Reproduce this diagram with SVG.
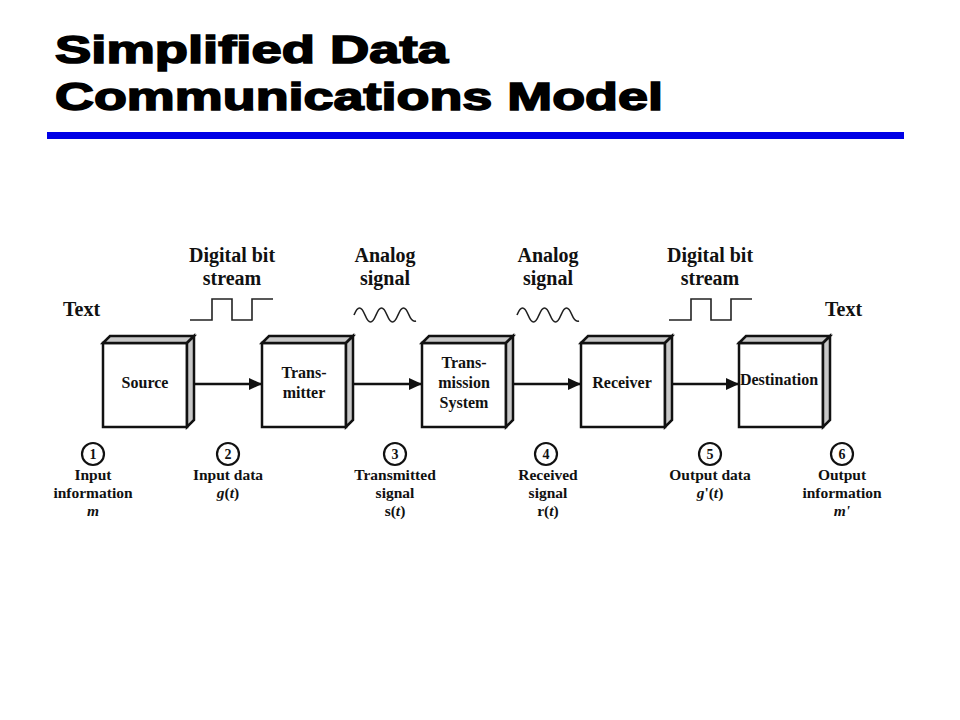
<svg xmlns="http://www.w3.org/2000/svg" xmlns:xlink="http://www.w3.org/1999/xlink" width="960" height="720" viewBox="0 0 960 720">
<style>
.title{font-family:"Liberation Sans",Arial,sans-serif;font-weight:bold;font-size:39px;fill:#000;stroke:#000;stroke-width:1.6px}
.lab{font-family:"Liberation Serif","Times New Roman",serif;font-weight:bold;font-size:20px;fill:#111;text-anchor:middle}
.box{font-family:"Liberation Serif","Times New Roman",serif;font-weight:bold;font-size:16px;fill:#111;text-anchor:middle}
.bot{font-family:"Liberation Serif","Times New Roman",serif;font-weight:bold;font-size:15.5px;fill:#111;text-anchor:middle}
.num{font-family:"Liberation Serif","Times New Roman",serif;font-weight:bold;font-size:14px;fill:#111;text-anchor:middle}
.face{fill:#fff;stroke:#111;stroke-width:2.5;stroke-linejoin:miter}
.bevel{fill:#c8c8c8;stroke:#111;stroke-width:2.5;stroke-linejoin:miter}
.conn{stroke:#111;stroke-width:2.5;fill:none}
.wave{stroke:#222;stroke-width:1.6;fill:none}
.circ{fill:#fff;stroke:#111;stroke-width:2.2}
</style>
<defs>
<marker id="ah" markerUnits="userSpaceOnUse" markerWidth="13" markerHeight="12" refX="13" refY="6" orient="auto">
<path d="M0,0 L13,6 L0,12 z" fill="#111"/>
</marker>
<g id="cube">
<rect class="face" x="0" y="0" width="84" height="84"/>
<polygon class="bevel" points="0,0 7,-7 91,-7 84,0"/>
<polygon class="bevel" points="84,0 91,-7 91,77 84,84"/>
</g>
<path id="sine" class="wave" d="M354,315 C357.9,305.7 361.1,305.7 365,315 C368.9,324.3 372.1,324.3 376,315 C379.9,305.7 383.1,305.7 387,315 C390.9,324.3 394.1,324.3 398,315 C401.9,305.7 405.1,305.7 409,315 C411,320 413,322 416,321"/>
<path id="square" class="wave" d="M190,320 H212 V299 H232 V320 H252 V299 H273"/>
</defs>

<g id="title">
<text class="title" x="55" y="63" textLength="393" lengthAdjust="spacingAndGlyphs">Simplified Data</text>
<text class="title" x="55" y="110" textLength="608" lengthAdjust="spacingAndGlyphs">Communications Model</text>
<rect x="47" y="132" width="857" height="7" fill="#0000e6"/>
</g>

<g id="signals">
<text class="lab" x="63" y="316" style="text-anchor:start">Text</text>
<text class="lab" x="825" y="316" style="text-anchor:start">Text</text>
<text class="lab" x="232" y="262">Digital bit</text>
<text class="lab" x="232" y="285">stream</text>
<text class="lab" x="385" y="262">Analog</text>
<text class="lab" x="385" y="285">signal</text>
<text class="lab" x="548" y="262">Analog</text>
<text class="lab" x="548" y="285">signal</text>
<text class="lab" x="710" y="262">Digital bit</text>
<text class="lab" x="710" y="285">stream</text>
<use xlink:href="#square"/>
<use xlink:href="#square" transform="translate(479,0)"/>
<use xlink:href="#sine"/>
<use xlink:href="#sine" transform="translate(163,0)"/>
</g>

<g id="connectors">
<line class="conn" x1="191" y1="384" x2="262" y2="384" marker-end="url(#ah)"/>
<line class="conn" x1="350" y1="384" x2="422" y2="384" marker-end="url(#ah)"/>
<line class="conn" x1="510" y1="384" x2="581" y2="384" marker-end="url(#ah)"/>
<line class="conn" x1="669" y1="384" x2="739" y2="384" marker-end="url(#ah)"/>
</g>

<g id="source">
<use xlink:href="#cube" transform="translate(103,343)"/>
<text class="box" x="145" y="388">Source</text>
</g>
<g id="transmitter">
<use xlink:href="#cube" transform="translate(262,343)"/>
<text class="box" x="304" y="378">Trans-</text>
<text class="box" x="304" y="398">mitter</text>
</g>
<g id="transmission-system">
<use xlink:href="#cube" transform="translate(422,343)"/>
<text class="box" x="464" y="368">Trans-</text>
<text class="box" x="464" y="388">mission</text>
<text class="box" x="464" y="408">System</text>
</g>
<g id="receiver">
<use xlink:href="#cube" transform="translate(581,343)"/>
<text class="box" x="622" y="388">Receiver</text>
</g>
<g id="destination">
<use xlink:href="#cube" transform="translate(739,343)"/>
<text class="box" x="779" y="385">Destination</text>
</g>

<g id="point1">
<circle class="circ" cx="93" cy="454" r="11"/>
<text class="num" x="93" y="459">1</text>
<text class="bot" x="93" y="480">Input</text>
<text class="bot" x="93" y="498">information</text>
<text class="bot" x="93" y="516" font-style="italic">m</text>
</g>
<g id="point2">
<circle class="circ" cx="228" cy="454" r="11"/>
<text class="num" x="228" y="459">2</text>
<text class="bot" x="228" y="480">Input data</text>
<text class="bot" x="228" y="498"><tspan font-style="italic">g</tspan>(<tspan font-style="italic">t</tspan>)</text>
</g>
<g id="point3">
<circle class="circ" cx="395" cy="454" r="11"/>
<text class="num" x="395" y="459">3</text>
<text class="bot" x="395" y="480">Transmitted</text>
<text class="bot" x="395" y="498">signal</text>
<text class="bot" x="395" y="516">s(<tspan font-style="italic">t</tspan>)</text>
</g>
<g id="point4">
<circle class="circ" cx="546" cy="454" r="11"/>
<text class="num" x="546" y="459">4</text>
<text class="bot" x="548" y="480">Received</text>
<text class="bot" x="548" y="498">signal</text>
<text class="bot" x="548" y="516">r(<tspan font-style="italic">t</tspan>)</text>
</g>
<g id="point5">
<circle class="circ" cx="710" cy="454" r="11"/>
<text class="num" x="710" y="459">5</text>
<text class="bot" x="710" y="480">Output data</text>
<text class="bot" x="710" y="498"><tspan font-style="italic">g</tspan>'(<tspan font-style="italic">t</tspan>)</text>
</g>
<g id="point6">
<circle class="circ" cx="842" cy="454" r="11"/>
<text class="num" x="842" y="459">6</text>
<text class="bot" x="842" y="480">Output</text>
<text class="bot" x="842" y="498">information</text>
<text class="bot" x="842" y="516" font-style="italic">m'</text>
</g>
</svg>
